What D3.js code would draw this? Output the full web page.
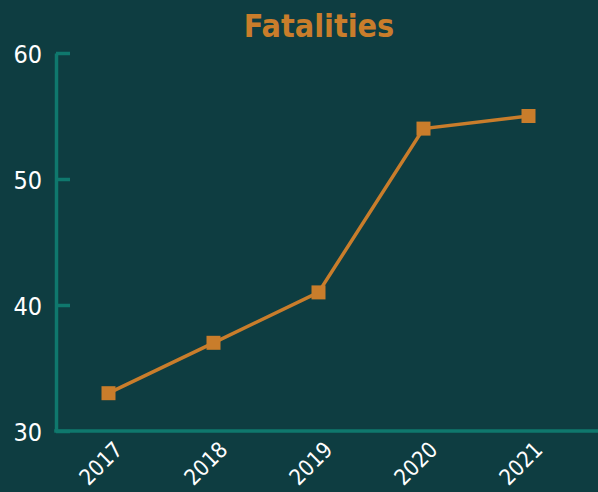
<!DOCTYPE html>
<html>
<head>
<meta charset="utf-8">
<script src="https://cdn.jsdelivr.net/npm/d3@7"></script>
<style>
  html, body { margin: 0; padding: 0; background: #0e3d41; }
  svg { display: block; }
  text { font-family: "DejaVu Sans Condensed", "DejaVu Sans", sans-serif; }
</style>
</head>
<body>
<svg id="chart" width="598" height="492"></svg>
<script>
// Yearly fatalities
const years = ["2017", "2018", "2019", "2020", "2021"];
const fatalities = [33, 37, 41, 54, 55];
const yTicks = [30, 40, 50, 60];

const W = 598, H = 492;
const bg = "#0e3d41", axisColor = "#0f786d", lineColor = "#c97d2b", textColor = "#ffffff";

const svg = d3.select("#chart");
svg.append("rect").attr("width", W).attr("height", H).attr("fill", bg);

const plotLeft = 56, plotTop = 53, plotBottom = 431;

const x = d3.scalePoint().domain(years).range([plotLeft, 581]).padding(0.5);
const y = d3.scaleLinear().domain([30, 60]).range([plotBottom, plotTop]);

// Title
svg.append("text")
  .attr("x", 319).attr("y", 37)
  .attr("text-anchor", "middle")
  .attr("fill", lineColor)
  .attr("font-size", 32)
  .attr("font-weight", "bold")
  .text("Fatalities");

// Y axis with short inward ticks
const yAxis = d3.axisLeft(y).tickValues(yTicks).tickSizeInner(-14).tickSizeOuter(0).tickPadding(14);
const gy = svg.append("g").attr("transform", `translate(${plotLeft},0)`).call(yAxis);
gy.select(".domain").attr("stroke", axisColor).attr("stroke-width", 3.5);
gy.selectAll(".tick line").attr("stroke", axisColor).attr("stroke-width", 3.5);
gy.selectAll("text").attr("fill", textColor).attr("font-size", 25).attr("dy", "0.36em");

// X axis with slanted year labels
const xAxis = d3.axisBottom(x).tickSize(0).tickPadding(0);
const gx = svg.append("g").attr("transform", `translate(0,${plotBottom})`).call(xAxis);
gx.select(".domain").remove();
gx.selectAll("text")
  .attr("fill", textColor).attr("font-size", 22)
  .attr("text-anchor", "end")
  .attr("dy", null).attr("y", null)
  .attr("transform", "translate(15,20) rotate(-45)");
svg.append("path")
  .attr("d", `M${plotLeft - 1.75},${plotBottom} H${W}`)
  .attr("fill", "none").attr("stroke", axisColor).attr("stroke-width", 3.5);

// Series line
const pts = years.map((yr, i) => [x(yr), y(fatalities[i])]);
svg.append("path")
  .attr("d", d3.line()(pts))
  .attr("fill", "none").attr("stroke", lineColor).attr("stroke-width", 3.5);

// Square markers
svg.selectAll("rect.marker").data(years.map((yr, i) => ({ yr, v: fatalities[i] })))
  .join("rect").attr("class", "marker")
  .attr("x", d => x(d.yr) - 7).attr("y", d => y(d.v) - 7)
  .attr("width", 14).attr("height", 14)
  .attr("fill", lineColor);
</script>
</body>
</html>
